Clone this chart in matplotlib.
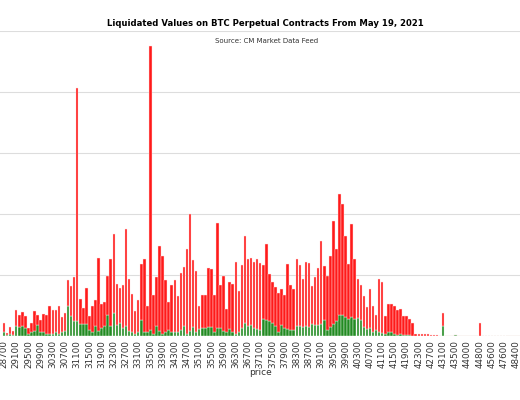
import numpy as np
from matplotlib import pyplot as plt

# price buckets (every 100 up to 43100, sparse after that)
prices = list(range(28700, 43200, 100)) + [43200, 43300, 43400, 43500, 43600, 43700, 43800, 44000,
                                           44200, 44400, 44600, 44800, 45000, 45200, 45400, 45600,
                                           46000, 46600, 47000, 47600, 47800, 48000, 48200, 48400,
                                           48600, 49000]

# total liquidated value per bucket (red + green), in grid units
total_vals = [0.21, 0.05, 0.14, 0.09, 0.42, 0.35, 0.39, 0.33, 0.13, 0.22,
              0.41, 0.34, 0.27, 0.36, 0.34, 0.49, 0.42, 0.42, 0.49, 0.31,
              0.38, 0.92, 0.82, 0.97, 4.07, 0.60, 0.46, 0.79, 0.33, 0.50,
              0.59, 1.28, 0.52, 0.56, 0.98, 1.27, 1.67, 0.85, 0.79, 0.83,
              1.76, 0.93, 0.69, 0.41, 0.59, 1.18, 1.27, 0.49, 4.75, 0.67,
              0.96, 1.47, 1.31, 0.91, 0.56, 0.83, 0.92, 0.66, 1.04, 1.13,
              1.43, 2.00, 1.24, 1.07, 0.49, 0.67, 0.67, 1.11, 1.10, 0.67,
              1.85, 0.83, 0.98, 0.44, 0.88, 0.85, 1.22, 0.73, 1.17, 1.64,
              1.26, 1.28, 1.21, 1.26, 1.20, 1.17, 1.50, 1.02, 0.89, 0.81,
              0.71, 0.77, 0.67, 1.18, 0.83, 0.77, 1.27, 1.16, 0.94, 1.22,
              1.20, 0.82, 0.96, 1.11, 1.56, 1.14, 0.99, 1.31, 1.88, 1.42,
              2.32, 2.17, 1.64, 1.18, 1.83, 1.26, 0.93, 0.83, 0.66, 0.48,
              0.77, 0.49, 0.35, 0.94, 0.89, 0.33, 0.53, 0.53, 0.49, 0.43,
              0.44, 0.33, 0.32, 0.28, 0.21, 0.04, 0.035, 0.035, 0.03, 0.025,
              0.02, 0.015, 0.01, 0.005, 0.38,
              0, 0, 0, 0.02, 0, 0, 0, 0, 0, 0, 0, 0.22, 0, 0, 0, 0,
              0, 0, 0, 0, 0, 0, 0, 0, 0, 0]

# green (bottom) part of each bar
green_vals = [0.07, 0.02, 0.03, 0.02, 0.16, 0.14, 0.16, 0.13, 0.04, 0.07,
              0.09, 0.18, 0.07, 0.06, 0.04, 0.04, 0.04, 0.06, 0.04, 0.07,
              0.09, 0.49, 0.32, 0.24, 0.24, 0.20, 0.20, 0.20, 0.10, 0.07,
              0.17, 0.09, 0.13, 0.17, 0.35, 0.16, 0.38, 0.18, 0.22, 0.13,
              0.17, 0.09, 0.07, 0.03, 0.07, 0.27, 0.07, 0.06, 0.10, 0.03,
              0.17, 0.09, 0.03, 0.07, 0.10, 0.07, 0.07, 0.06, 0.10, 0.17,
              0.03, 0.09, 0.14, 0.06, 0.11, 0.13, 0.13, 0.14, 0.14, 0.06,
              0.13, 0.13, 0.09, 0.06, 0.11, 0.07, 0.04, 0.07, 0.13, 0.21,
              0.17, 0.18, 0.13, 0.11, 0.10, 0.28, 0.27, 0.24, 0.22, 0.16,
              0.07, 0.18, 0.13, 0.11, 0.10, 0.10, 0.17, 0.16, 0.15, 0.16,
              0.15, 0.20, 0.18, 0.18, 0.20, 0.26, 0.10, 0.15, 0.20, 0.25,
              0.35, 0.34, 0.31, 0.28, 0.31, 0.28, 0.30, 0.27, 0.15, 0.11,
              0.13, 0.07, 0.10, 0.07, 0.05, 0.04, 0.06, 0.07, 0.03, 0.02,
              0.03, 0.02, 0.01, 0.01, 0.005, 0, 0, 0, 0, 0,
              0, 0, 0, 0, 0.17,
              0, 0, 0, 0.01, 0, 0, 0, 0, 0, 0, 0, 0, 0, 0, 0, 0,
              0, 0, 0, 0, 0, 0, 0, 0, 0, 0]

if __name__ == '__main__':
    green = np.array(green_vals)
    red = np.array(total_vals) - green
    x = np.arange(len(prices))

    fig = plt.figure(figsize=(5.2, 4), dpi=100)
    ax = fig.add_axes([0.0, 0.16, 1.0, 0.7625])

    ax.bar(x, green, 0.85, color='#228b22', edgecolor='#e8f4e8', linewidth=0.3, zorder=2)
    ax.bar(x, red, 0.85, bottom=green, color='#ff1a1a', edgecolor='#ffe0e0', linewidth=0.3, zorder=2)

    # the original picture is cropped on both sides, so the axes run off the figure
    ax.set_xlim(-4.0 / 3.05, 516.0 / 3.05)
    ax.set_ylim(0, 5)
    ax.set_yticks(range(6))
    ax.set_yticklabels([])
    ax.grid(axis='y', color='#dddddd', linewidth=0.8, zorder=0)
    ax.set_axisbelow(True)
    for s in ax.spines.values():
        s.set_visible(False)

    ax.set_xticks(x[::4])
    ax.set_xticklabels([str(p) for p in prices[::4]], rotation=90, fontsize=6.3, color='#333333')
    ax.tick_params(axis='both', length=0, pad=3)
    ax.set_xlabel('price', fontsize=6.5, color='#333333', labelpad=0)

    fig.text(0.51, 0.94, 'Liquidated Values on BTC Perpetual Contracts From May 19, 2021',
             ha='center', va='center', fontsize=6.1, fontweight='bold')
    fig.text(0.512, 0.8975, 'Source: CM Market Data Feed', ha='center', va='center',
             fontsize=5.0, color='#333333')

    fig.savefig('out.png', dpi=100)
